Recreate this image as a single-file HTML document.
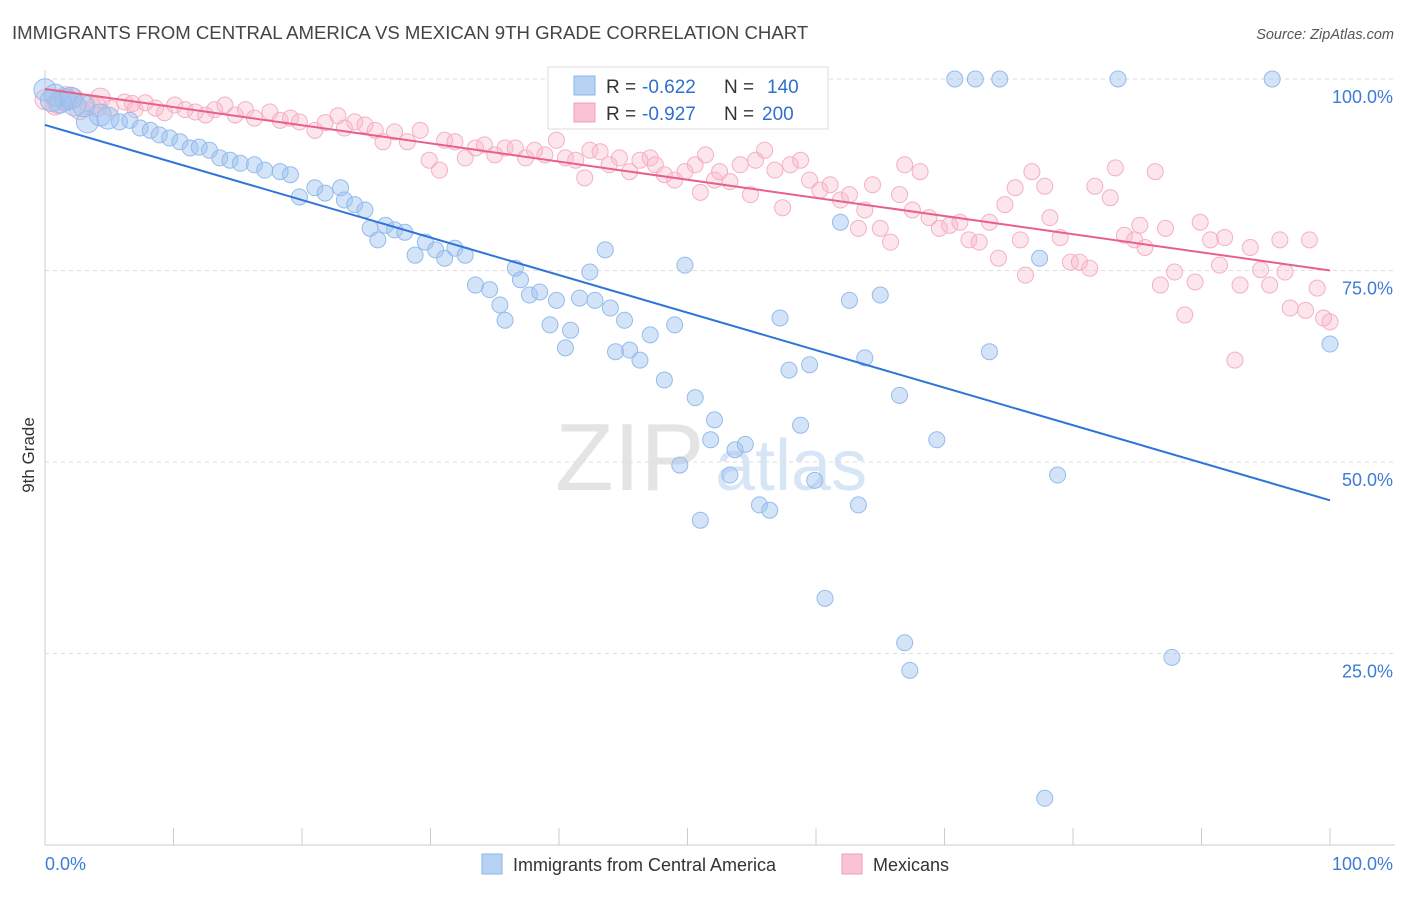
<!DOCTYPE html>
<html><head><meta charset="utf-8"><style>
body{margin:0;background:#fff;font-family:"Liberation Sans",sans-serif}
svg text{font-family:"Liberation Sans",sans-serif}
</style></head><body>
<svg id="c" width="1406" height="892">
<text x="12" y="39" font-size="18.6" fill="#444">IMMIGRANTS FROM CENTRAL AMERICA VS MEXICAN 9TH GRADE CORRELATION CHART</text>
<text x="1394" y="39" font-size="14.5" fill="#555" font-style="italic" text-anchor="end">Source: ZipAtlas.com</text>
<text x="34" y="455" font-size="17" fill="#333" text-anchor="middle" transform="rotate(-90 34 455)">9th Grade</text>
<g><text x="555" y="490" font-size="96" fill="#e4e4e4" font-family="Liberation Serif,serif">ZIP</text><text x="715" y="490" font-size="72" fill="#d7e6f6">atlas</text></g>
<g id="grid"></g><g id="pts"></g><g id="trend"></g>
<g>
<rect x="548" y="67" width="280" height="62" fill="#fff" stroke="#ddd"/>
<rect x="574" y="76" width="21" height="19" fill="#b8d2f4" stroke="#8ab4ea"/>
<rect x="574" y="103" width="21" height="19" fill="#f9c3d3" stroke="#f0a0b8"/>
<text x="606" y="93" font-size="19" fill="#333">R =</text>
<text x="642" y="93" font-size="19" fill="#2f6fd0">-0.622</text>
<text x="724" y="93" font-size="19" fill="#333">N =</text>
<text x="767" y="93" font-size="19" fill="#2f6fd0">140</text>
<text x="606" y="120" font-size="19" fill="#333">R =</text>
<text x="642" y="120" font-size="19" fill="#2f6fd0">-0.927</text>
<text x="724" y="120" font-size="19" fill="#333">N =</text>
<text x="762" y="120" font-size="19" fill="#2f6fd0">200</text>
</g>
<g>
<rect x="482" y="854" width="20" height="20" fill="#b8d2f4" stroke="#8ab4ea"/>
<text x="513" y="871" font-size="18" fill="#333">Immigrants from Central America</text>
<rect x="842" y="854" width="20" height="20" fill="#f9c3d3" stroke="#f0a0b8"/>
<text x="873" y="871" font-size="18" fill="#333">Mexicans</text>
</g>
</svg>
<script>
const yTicks=[100,75,50,25];
const yTickLabels=["100.0%","75.0%","50.0%","25.0%"];
const xLabels=["0.0%","100.0%"];
const blueX=[0,0.8,1.6,2.3,3.3,4.3,4.9,5.8,6.6,7.4,8.2,8.9,9.7,10.5,11.3,12,12.8,13.6,14.4,15.2,16.3,17.1,18.3,19.1,19.8,21,21.8,23,23.3,24.1,24.9,25.3,25.9,26.5,27.2,28,28.8,29.6,30.4,31.1,31.9,32.7,33.5,34.6,35.4,35.8,36.6,37,37.7,38.5,39.3,39.8,40.5,40.9,41.6,42.4,42.8,43.6,44,44.4,45.1,45.5,46.3,47.1,48.2,49,49.4,49.8,50.6,51,51.8,52.1,53.3,53.7,54.5,55.6,56.4,57.2,57.9,58.8,59.5,59.9,60.7,61.9,62.6,63.3,63.8,65,66.5,66.9,67.3,69.4,70.8,72.4,73.5,74.3,77.4,77.8,78.8,83.5,87.7,95.5,100,47.7,54.2,1.2,2.0,3.0,0.5];
const blueY=[98.6,97.9,97.3,96.6,94.4,95.3,94.9,94.4,94.6,93.6,93.3,92.7,92.3,91.8,91,91.1,90.7,89.7,89.4,89,88.8,88.1,87.9,87.5,84.6,85.8,85.1,85.8,84.2,83.6,82.9,80.5,79,80.9,80.3,80,77,78.7,77.7,76.6,77.9,77,73.1,72.5,70.5,68.5,75.3,73.8,71.8,72.2,67.9,71.1,64.9,67.2,71.4,74.8,71.1,77.7,70.1,64.4,68.5,64.6,63.3,66.6,60.7,67.9,49.6,75.7,58.4,42.4,52.9,55.5,48.3,51.6,52.3,44.4,43.7,68.8,62,54.8,62.7,47.6,32.2,81.3,71.1,44.4,63.6,71.8,58.7,26.4,22.8,52.9,100,100,64.4,100,76.6,6.1,48.3,100,24.5,100,65.4,100,100,97.0,97.5,96.5,97.2];
const pinkX=[0,0.8,1.6,2.7,3.5,4.3,5.1,6.2,7,7.8,8.6,9.3,10.1,10.9,11.7,12.5,13.2,14,14.8,15.6,16.3,17.5,18.3,19.1,19.8,21,21.8,22.8,23.3,24.1,24.9,25.7,26.3,27.2,28.2,29.2,29.9,30.7,31.1,31.9,32.7,33.5,34.2,35,35.8,36.6,37.4,38.1,38.9,39.8,40.5,41.3,42,42.4,43.2,43.9,44.7,45.5,46.3,47.1,47.5,48.2,49,49.8,50.6,51,51.4,52.1,52.5,53.3,54.1,54.9,55.3,56,56.8,57.4,58,58.8,59.5,60.3,61.1,61.9,62.6,63.3,63.8,64.4,65,65.8,66.5,66.9,67.5,68.1,68.8,69.6,70.4,71.2,71.9,72.7,73.5,74.2,74.7,75.5,75.9,76.3,76.8,77.8,78.2,79,79.8,80.5,81.3,81.7,82.9,83.3,84,84.8,85.2,85.6,86.4,86.8,87.2,87.9,88.7,89.5,89.9,90.7,91.4,91.8,92.6,93,93.8,94.6,95.3,96.1,96.5,96.9,98.1,98.4,99,99.5,100,1.0,2.2,4.0,6.8];
const pinkY=[97.3,96.6,97.7,96,96.6,97.5,96.2,97,96,96.9,96.2,95.6,96.6,96,95.7,95.3,96,96.6,95.3,96,94.9,95.7,94.6,94.9,94.4,93.3,94.3,95.2,93.6,94.4,94,93.3,91.8,93.1,91.8,93.3,89.4,88.1,92,91.8,89.7,91,91.4,90.1,91,91,89.7,90.7,90.1,92,89.7,89.4,87.1,90.7,90.5,88.8,89.7,87.9,89.4,89.7,88.8,87.5,86.8,87.9,88.8,85.2,90.1,86.8,87.9,86.6,88.8,84.9,89.4,90.7,88.1,83.2,88.8,89.4,86.8,85.5,86.2,84.2,84.9,80.5,82.9,86.2,80.5,78.7,84.9,88.8,82.9,87.9,81.9,80.5,80.9,81.3,79,78.7,81.3,76.6,83.6,85.8,79,74.4,87.9,86,81.9,79.3,76.1,76.1,75.3,86,84.5,88.4,79.6,79,80.9,78,87.9,73.1,80.5,74.8,69.2,73.5,81.3,79,75.7,79.3,63.3,73.1,78,75.1,73.1,79,74.8,70.1,69.8,79,72.7,68.8,68.3,96.8,97.5,96.4,96.8];
const blueTrend=[94.0,45.0];
const pinkTrend=[98.7,75.0];
const NS="http://www.w3.org/2000/svg";
const X=v=>45+v*12.85, Y=v=>79+(100-v)*7.66;
function mk(t,a,p){const e=document.createElementNS(NS,t);for(const k in a)e.setAttribute(k,a[k]);p.appendChild(e);return e;}
const grid=document.getElementById('grid');
yTicks.forEach((t,i)=>{
 const l=mk('line',{x1:45,x2:1395,y1:Y(t),y2:Y(t),stroke:'#ddd','stroke-dasharray':'4,4'},grid);
 
 
 const tx=mk('text',{x:1393,y:Y(t)+24,'font-size':18,fill:'#3d7bd8','text-anchor':'end'},grid);tx.textContent=yTickLabels[i];
 
 
});
mk('line',{x1:45,x2:45,y1:70,y2:845,stroke:'#ccc'},grid);
mk('line',{x1:45,x2:1395,y1:845,y2:845,stroke:'#ccc'},grid);
for(let i=0;i<=10;i++){mk('line',{x1:X(i*10),x2:X(i*10),y1:828,y2:845,stroke:'#ccc'},grid);}
const xl0=mk('text',{x:45,y:870,'font-size':18,fill:'#3d7bd8'},grid);xl0.textContent=xLabels[0];


const xl1=mk('text',{x:1393,y:870,'font-size':18,fill:'#3d7bd8','text-anchor':'end'},grid);xl1.textContent=xLabels[1];


const pts=document.getElementById('pts');
pinkX.forEach((x,i)=>{const c=mk('circle',{cx:X(x),cy:Y(pinkY[i]),r:x<5?10:8,fill:'rgba(248,180,200,0.35)',stroke:'#f4b0c5','stroke-width':1},pts);
 
 });
blueX.forEach((x,i)=>{const c=mk('circle',{cx:X(x),cy:Y(blueY[i]),r:x<5?11:8,fill:'rgba(160,196,240,0.45)',stroke:'#94bbec','stroke-width':1},pts);
 
 });
const tr=document.getElementById('trend');
const bl=mk('line',{x1:X(0),y1:Y(blueTrend[0]),x2:X(100),y2:Y(blueTrend[1]),stroke:'#2f74d8','stroke-width':2},tr);


const pl=mk('line',{x1:X(0),y1:Y(pinkTrend[0]),x2:X(100),y2:Y(pinkTrend[1]),stroke:'#e8608a','stroke-width':2},tr);


</script>
</body></html>
